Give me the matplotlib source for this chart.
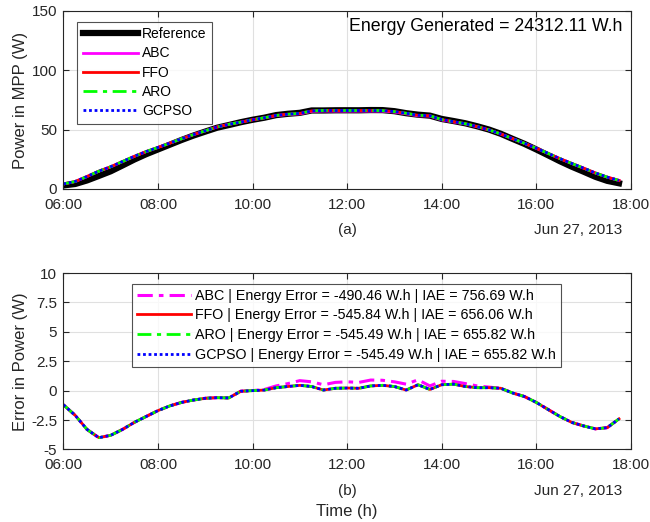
import matplotlib.pyplot as plt
import numpy as np

plt.rcParams['font.family'] = ['Liberation Sans', 'DejaVu Sans']

# time in hours, 15 min steps
hours = [6.00, 6.25, 6.50, 6.75, 7.00, 7.25, 7.50, 7.75, 8.00, 8.25, 8.50, 8.75,
         9.00, 9.25, 9.50, 9.75, 10.00, 10.25, 10.50, 10.75, 11.00, 11.25, 11.50, 11.75,
         12.00, 12.25, 12.50, 12.75, 13.00, 13.25, 13.50, 13.75, 14.00, 14.25, 14.50, 14.75,
         15.00, 15.25, 15.50, 15.75, 16.00, 16.25, 16.50, 16.75, 17.00, 17.25, 17.50, 17.75]

# power tracked by the algorithms (W)
p_track = [4.2, 6.3, 10.5, 15.0, 18.7, 23.1, 27.5, 31.5, 35.0, 38.6, 42.3, 45.8,
           49.0, 52.2, 54.5, 56.3, 58.3, 60.0, 62.0, 63.0, 63.7, 65.8, 66.1, 66.1,
           66.1, 66.1, 66.1, 66.0, 65.2, 63.8, 62.1, 61.7, 58.5, 56.7, 55.0, 52.6,
           49.8, 46.3, 42.4, 38.5, 34.3, 30.0, 25.6, 21.5, 17.6, 13.5, 10.0, 7.2]

# error in power (W), FFO / ARO / GCPSO
err_common = [-1.2, -2.1, -3.3, -4.0, -3.8, -3.3, -2.7, -2.2, -1.7, -1.3, -1.0, -0.8,
              -0.65, -0.6, -0.62, -0.05, 0.0, 0.05, 0.25, 0.35, 0.45, 0.35, 0.05, 0.2,
              0.22, 0.2, 0.4, 0.45, 0.35, 0.05, 0.5, 0.1, 0.5, 0.55, 0.35, 0.25,
              0.25, 0.2, -0.2, -0.5, -1.0, -1.6, -2.2, -2.7, -3.0, -3.25, -3.15, -2.4]
err_ffo = err_common
err_aro = err_common
err_gcpso = err_common
# error in power (W), ABC
err_abc = [-1.2, -2.1, -3.3, -4.0, -3.8, -3.3, -2.7, -2.2, -1.7, -1.3, -1.0, -0.8,
           -0.65, -0.6, -0.62, -0.05, 0.0, 0.1, 0.4, 0.6, 0.85, 0.75, 0.5, 0.7,
           0.75, 0.7, 0.9, 0.88, 0.75, 0.55, 0.92, 0.4, 0.8, 0.78, 0.6, 0.4,
           0.3, 0.2, -0.2, -0.5, -1.0, -1.6, -2.2, -2.7, -3.0, -3.25, -3.15, -2.4]

hours = np.array(hours)
p_ref = np.array(p_track) + np.array(err_common)
p_ffo = p_ref - np.array(err_ffo)
p_aro = p_ref - np.array(err_aro)
p_gcpso = p_ref - np.array(err_gcpso)
p_abc = p_ref - np.array(err_abc)

xticks = [6, 8, 10, 12, 14, 16, 18]
xlabels = ['06:00', '08:00', '10:00', '12:00', '14:00', '16:00', '18:00']
abc_lbl = 'ABC | Energy Error = -490.46 W.h | IAE = 756.69 W.h'
ffo_lbl = 'FFO | Energy Error = -545.84 W.h | IAE = 656.06 W.h'
aro_lbl = 'ARO | Energy Error = -545.49 W.h | IAE = 655.82 W.h'
gcpso_lbl = 'GCPSO | Energy Error = -545.49 W.h | IAE = 655.82 W.h'

dark = '#262626'
dashdot = (0, (5, 2, 1.5, 2))
fig = plt.figure(figsize=(6.5, 5.22), dpi=100)
ax1 = fig.add_axes([0.0975, 0.638, 0.873, 0.341])
ax2 = fig.add_axes([0.0975, 0.139, 0.873, 0.338])


def style(ax):
    ax.set_xlim(6, 18)
    ax.set_xticks(xticks)
    ax.set_xticklabels(xlabels)
    ax.grid(True, color='#e0e0e0', linewidth=0.8)
    ax.set_axisbelow(True)
    ax.tick_params(direction='in', top=True, right=True, length=4, labelsize=11,
                   colors=dark, width=0.8)
    ax.tick_params(axis='x', pad=6.5)
    ax.tick_params(axis='y', pad=4.5)
    ax.yaxis.set_label_coords(-0.063, 0.5)
    for s in ax.spines.values():
        s.set_color(dark)
        s.set_linewidth(0.8)


# (a) power in MPP
ax1.plot(hours, p_ref, color='black', lw=4.5, label='Reference')
ax1.plot(hours, p_abc, color='magenta', lw=2, label='ABC')
ax1.plot(hours, p_ffo, color='red', lw=2, label='FFO')
ax1.plot(hours, p_aro, color='#00ff00', lw=2, ls=dashdot, label='ARO')
ax1.plot(hours, p_gcpso, color='blue', lw=2, ls=(0, (1, 1)), label='GCPSO')
style(ax1)
ax1.set_ylim(0, 150)
ax1.set_yticks([0, 50, 100, 150])
ax1.set_ylabel('Power in MPP (W)', fontsize=12, color=dark)
ax1.text(0.985, 0.91, 'Energy Generated = 24312.11 W.h', transform=ax1.transAxes,
         ha='right', va='center', fontsize=12.8, color='black')
leg1 = ax1.legend(loc='upper left', bbox_to_anchor=(0.024, 0.94), fontsize=10,
                  fancybox=False, edgecolor=dark, handlelength=4, labelspacing=0.38,
                  borderpad=0.4, handletextpad=0.3, borderaxespad=0)
leg1.get_frame().set_linewidth(0.8)
ax1.text(0.5, -0.232, '(a)', transform=ax1.transAxes, ha='center', va='center',
         fontsize=11, color=dark)
ax1.text(0.985, -0.232, 'Jun 27, 2013', transform=ax1.transAxes, ha='right',
         va='center', fontsize=11, color=dark)

# (b) error in power
ax2.plot(hours, err_abc, color='magenta', lw=2.2, ls=dashdot, label=abc_lbl)
ax2.plot(hours, err_ffo, color='red', lw=2, label=ffo_lbl)
ax2.plot(hours, err_aro, color='#00ff00', lw=2, ls=dashdot, label=aro_lbl)
ax2.plot(hours, err_gcpso, color='blue', lw=2, ls=(0, (1, 1)), label=gcpso_lbl)
style(ax2)
ax2.set_ylim(-5, 10)
ax2.set_yticks([-5, -2.5, 0, 2.5, 5, 7.5, 10])
ax2.set_yticklabels(['-5', '-2.5', '0', '2.5', '5', '7.5', '10'])
ax2.set_ylabel('Error in Power (W)', fontsize=12, color=dark)
leg2 = ax2.legend(loc='upper center', bbox_to_anchor=(0.4985, 0.94), fontsize=10.25,
                  fancybox=False, edgecolor=dark, handlelength=3.8, labelspacing=0.4,
                  borderpad=0.35, handletextpad=0.3, borderaxespad=0)
leg2.get_frame().set_linewidth(0.8)
ax2.text(0.5, -0.234, '(b)', transform=ax2.transAxes, ha='center', va='center',
         fontsize=11, color=dark)
ax2.text(0.985, -0.234, 'Jun 27, 2013', transform=ax2.transAxes, ha='right',
         va='center', fontsize=11, color=dark)
ax2.text(0.5, -0.35, 'Time (h)', transform=ax2.transAxes, ha='center', va='center',
         fontsize=12, color=dark)

fig.savefig('out.png', dpi=100)
